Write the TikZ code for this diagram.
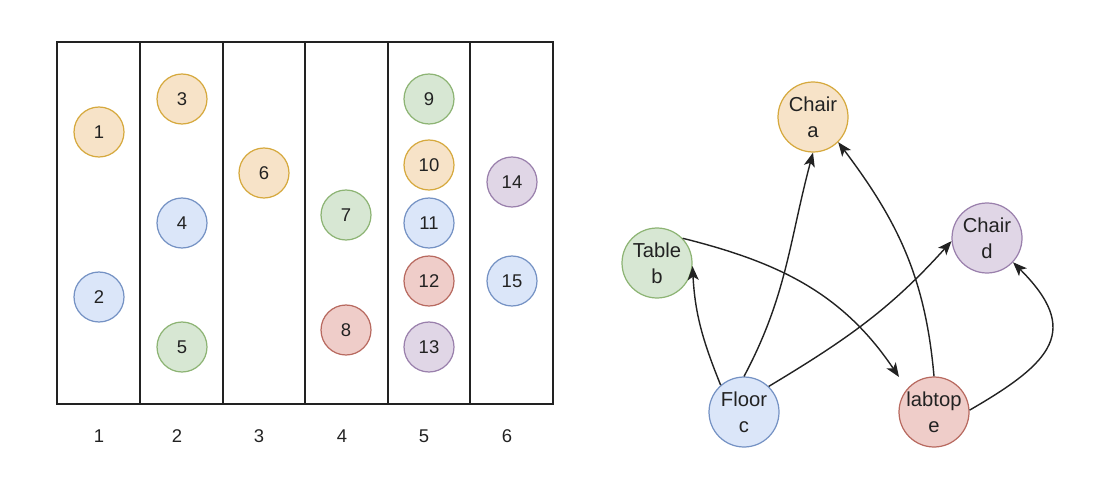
\documentclass[tikz,border=0pt]{standalone}
\definecolor{ofill}{HTML}{F7E3C8}
\definecolor{oline}{HTML}{D6A93E}
\definecolor{bfill}{HTML}{DBE6F9}
\definecolor{bline}{HTML}{7592C4}
\definecolor{gfill}{HTML}{D7E7D3}
\definecolor{gline}{HTML}{8DB474}
\definecolor{rfill}{HTML}{EFCDC9}
\definecolor{rline}{HTML}{B86A60}
\definecolor{pfill}{HTML}{E0D6E6}
\definecolor{pline}{HTML}{9A80AC}
\definecolor{ink}{HTML}{222222}
\usepackage{fontspec}
\setmainfont{Liberation Sans}
\usepackage{tikz}
\usetikzlibrary{arrows.meta, calc}

\begin{document}
\begin{tikzpicture}[x=0.02cm, y=-0.02cm,
  ball/.style={circle, draw, line width=0.7pt, minimum size=1cm, inner sep=0pt, text=ink, font=\fontsize{10.5}{13}\selectfont},
  oball/.style={ball, draw=oline, fill=ofill},
  bball/.style={ball, draw=bline, fill=bfill},
  gball/.style={ball, draw=gline, fill=gfill},
  rball/.style={ball, draw=rline, fill=rfill},
  pball/.style={ball, draw=pline, fill=pfill},
  obj/.style={circle, draw, line width=0.7pt, minimum size=1.4cm, inner sep=0pt, align=center, text=ink, font=\fontsize{11.5}{15}\selectfont},
  collabel/.style={text=ink, font=\fontsize{10.5}{13}\selectfont},
  link/.style={-{Stealth[length=0.28cm, width=0.22cm, inset=0.07cm]}, line width=0.8pt, draw=ink}]
\useasboundingbox (0,0) rectangle (1114,486);
% Left: six columns
\draw[line width=0.75pt, ink] (57,42) rectangle (553,404);
\draw[line width=0.75pt, ink] (140,42) -- (140,404);
\draw[line width=0.75pt, ink] (223,42) -- (223,404);
\draw[line width=0.75pt, ink] (305,42) -- (305,404);
\draw[line width=0.75pt, ink] (388,42) -- (388,404);
\draw[line width=0.75pt, ink] (470,42) -- (470,404);
\node[collabel] (col1) at (99,436) {1};
\node[collabel] (col2) at (177,436) {2};
\node[collabel] (col3) at (259,436) {3};
\node[collabel] (col4) at (342,436) {4};
\node[collabel] (col5) at (424,436) {5};
\node[collabel] (col6) at (507,436) {6};
\node[oball] (b1) at (99,132) {1};
\node[bball] (b2) at (99,297) {2};
\node[oball] (b3) at (182,99) {3};
\node[bball] (b4) at (182,223) {4};
\node[gball] (b5) at (182,347) {5};
\node[oball] (b6) at (264,173) {6};
\node[gball] (b7) at (346,215) {7};
\node[rball] (b8) at (346,330) {8};
\node[gball] (b9) at (429,99) {9};
\node[oball] (b10) at (429,165) {10};
\node[bball] (b11) at (429,223) {11};
\node[rball] (b12) at (429,281) {12};
\node[pball] (b13) at (429,347) {13};
\node[pball] (b14) at (512,182) {14};
\node[bball] (b15) at (512,281) {15};
% Right: objects and links
\node[obj, draw=oline, fill=ofill] (chaira) at (813,117) {Chair\\a};
\node[obj, draw=gline, fill=gfill] (tableb) at (657,263) {Table\\b};
\node[obj, draw=pline, fill=pfill] (chaird) at (987,238) {Chair\\d};
\node[obj, draw=bline, fill=bfill] (floorc) at (744,412) {Floor\\c};
\node[obj, draw=rline, fill=rfill] (labtope) at (934,412) {labtop\\e};
\draw[link] (floorc.131) to[out=112, in=-87] (tableb.-5);
\draw[link] (floorc.90) to[out=62, in=-105] (chaira.-90);
\draw[link] (floorc.46) to[out=31, in=228] (chaird.185);
\draw[link] (tableb.44) to[out=-14, in=124] ($(labtope.center)+(-35,-35)$);
\draw[link] (labtope.90) to[out=95, in=-53] (chaira.-45);
\draw[link] (labtope.3) to[out=30, in=-45, looseness=1.6] (chaird.-43);
\end{tikzpicture}
\end{document}
